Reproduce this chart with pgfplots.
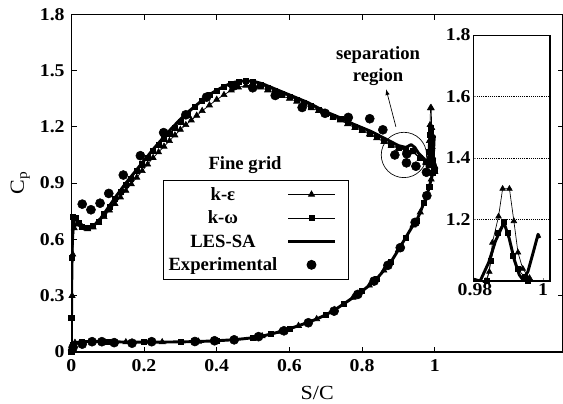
\documentclass[border=0pt]{standalone}
\usepackage{pgfplots}
\pgfplotsset{compat=1.18}
\usepackage{pgfplotstable}
\usepackage{fontspec}
\setmainfont{Liberation Serif}[FakeStretch=1.1]
\newfontfamily\legfont{Liberation Serif}
\newcommand\tf{\fontsize{13.5}{15.5}\selectfont\bfseries}
\newcommand\lf{\legfont\fontsize{14}{16}\selectfont\bfseries}
\pgfplotsset{
  linelegend/.style={legend image code/.code={\draw[white, line width=0.1pt] (35pt,0pt) -- (43pt,0pt); \draw[mark repeat=2,mark phase=2,##1] plot coordinates {(0pt,0pt) (17.5pt,0pt) (35pt,0pt)};}},
  thicklegend/.style={legend image code/.code={\draw[white, line width=0.1pt] (35pt,0pt) -- (43pt,0pt); \draw[##1] (0pt,0pt) -- (35pt,0pt);}},
  marklegend/.style={legend image code/.code={\draw[white, line width=0.1pt] (0pt,0pt) -- (43pt,0pt); \draw[##1] plot coordinates {(17.5pt,0pt)};}},
}

\pgfplotstableread{
x y
0 0
0.001 0.35
0.003 0.62
0.007 0.72
0.013 0.705
0.022 0.675
0.035 0.655
0.05 0.66
0.065 0.68
0.08 0.71
0.10 0.765
0.125 0.835
0.15 0.90
0.175 0.96
0.20 1.02
0.225 1.08
0.25 1.135
0.275 1.19
0.30 1.24
0.325 1.285
0.35 1.325
0.375 1.365
0.40 1.395
0.425 1.42
0.45 1.438
0.475 1.445
0.50 1.443
0.525 1.43
0.55 1.41
0.575 1.39
0.60 1.37
0.625 1.35
0.65 1.33
0.675 1.305
0.70 1.28
0.725 1.26
0.75 1.24
0.775 1.215
0.80 1.195
0.825 1.175
0.85 1.15
0.875 1.125
0.90 1.10
0.92 1.09
0.935 1.105
0.945 1.09
0.955 1.06
0.965 1.04
0.975 1.02
0.9815 1.0
0.984 1.06
0.986 1.13
0.9885 1.19
0.990 1.14
0.9915 1.07
0.993 1.02
0.994 1.005
0.9955 1.03
0.997 1.09
0.9985 1.152
0.999 1.14
}\lesup

\pgfplotstableread{
x y
1.0 0.99
0.995 0.955
0.99 0.92
0.985 0.88
0.978 0.833
0.97 0.795
0.96 0.745
0.95 0.70
0.94 0.675
0.92 0.61
0.90 0.545
0.88 0.482
0.86 0.435
0.84 0.39
0.82 0.355
0.80 0.325
0.775 0.29
0.75 0.257
0.725 0.225
0.70 0.198
0.675 0.176
0.65 0.157
0.625 0.14
0.60 0.124
0.575 0.109
0.55 0.096
0.525 0.085
0.50 0.076
0.45 0.066
0.40 0.06
0.35 0.056
0.30 0.054
0.25 0.053
0.20 0.053
0.15 0.053
0.10 0.055
0.06 0.057
0.03 0.055
0.01 0.05
0.004 0.04
0.001 0.02
0 0
}\lowsurf

\pgfplotstableread{
x y
0 0.02
0.002 0.3
0.004 0.52
0.008 0.66
0.015 0.68
0.03 0.665
0.045 0.655
0.06 0.665
0.075 0.69
0.09 0.72
0.105 0.755
0.12 0.79
0.135 0.825
0.15 0.86
0.165 0.895
0.18 0.93
0.195 0.965
0.21 1.0
0.225 1.035
0.24 1.065
0.255 1.095
0.27 1.125
0.285 1.155
0.30 1.185
0.315 1.21
0.33 1.235
0.345 1.26
0.36 1.285
0.38 1.315
0.40 1.345
0.42 1.37
0.44 1.395
0.46 1.41
0.48 1.42
0.50 1.42
0.52 1.41
0.54 1.395
0.56 1.38
0.58 1.365
0.60 1.35
0.62 1.335
0.64 1.32
0.66 1.30
0.68 1.285
0.70 1.27
0.72 1.25
0.74 1.235
0.76 1.215
0.78 1.195
0.80 1.18
0.82 1.16
0.84 1.14
0.86 1.12
0.88 1.10
0.90 1.085
0.92 1.075
0.94 1.065
0.96 1.03
0.975 1.01
0.9832 1.0
0.9842 1.03
0.9851 1.125
0.9869 1.21
0.9881 1.30
0.9901 1.30
0.9914 1.195
0.9926 1.093
0.994 1.04
0.996 1.01
0.998 0.99
1.0 0.96
}\keup

\pgfplotstableread{
x y
0 0.18
0.002 0.5
0.005 0.72
0.012 0.715
0.02 0.69
0.03 0.665
0.045 0.66
0.06 0.67
0.075 0.695
0.09 0.735
0.105 0.775
0.12 0.815
0.135 0.855
0.15 0.89
0.165 0.925
0.18 0.965
0.195 1.0
0.21 1.035
0.225 1.07
0.24 1.105
0.255 1.135
0.27 1.165
0.285 1.195
0.30 1.225
0.32 1.265
0.34 1.305
0.36 1.34
0.38 1.37
0.40 1.39
0.42 1.415
0.44 1.43
0.46 1.44
0.48 1.443
0.50 1.44
0.52 1.425
0.54 1.405
0.56 1.39
0.58 1.375
0.60 1.36
0.62 1.345
0.64 1.33
0.66 1.31
0.68 1.29
0.70 1.27
0.72 1.255
0.74 1.24
0.76 1.22
0.78 1.2
0.80 1.185
0.82 1.165
0.84 1.145
0.86 1.125
0.88 1.105
0.90 1.09
0.92 1.08
0.94 1.07
0.96 1.035
0.975 1.015
0.9835 1.0
0.9847 1.066
0.9866 1.158
0.9884 1.192
0.9896 1.158
0.9911 1.082
0.9926 1.039
0.9946 1.012
0.9956 1.0
0.998 0.98
1.0 0.97
}\kwup

\pgfplotstableread{
x y
0.03 0.788
0.054 0.758
0.079 0.793
0.103 0.845
0.143 0.943
0.19 1.046
0.254 1.169
0.315 1.264
0.372 1.358
0.446 1.417
0.499 1.408
0.561 1.367
0.635 1.303
0.698 1.272
0.762 1.25
0.821 1.243
0.857 1.184
0.89 1.05
0.923 1.056
0.922 1.008
0.948 0.99
0.977 0.958
0.978 0.833
0.946 0.691
0.905 0.556
0.871 0.462
0.833 0.378
0.788 0.307
0.723 0.218
0.652 0.156
0.585 0.113
0.515 0.082
0.448 0.065
0.394 0.06
0.34 0.056
0.221 0.055
0.167 0.047
0.118 0.05
0.084 0.055
0.057 0.055
0.03 0.042
0.005 0.025
}\expdata

\begin{document}
\begin{tikzpicture}
\path[use as bounding box] (-53.5pt,-38.25pt) rectangle (368.8pt,264.05pt);
\begin{axis}[
  at={(0,0)}, anchor=south west,
  scale only axis, width=368.8pt, height=253.4pt,
  xmin=0, xmax=1.3527, ymin=0, ymax=1.8,
  xtick={0,0.2,0.4,0.6,0.8,1},
  ytick={0,0.3,0.6,0.9,1.2,1.5,1.8},
  tick align=inside, major tick length=4pt,
  /pgf/number format/assume math mode=true,
  /pgf/number format/fixed,
  ticklabel style={font=\tf},
  xticklabel style={yshift=-2pt},
  yticklabel style={xshift=-1.5pt},
  axis line style={line width=0.8pt},
  every tick/.style={line width=0.6pt, black},
  xlabel={S/C}, ylabel={C\textsubscript{p}},
  label style={font=\fontsize{15}{17}\selectfont},
  xlabel style={at={(axis description cs:0.5,-0.121)}, anchor=center},
  ylabel style={at={(axis description cs:-0.104,0.5)}, anchor=center},
  legend plot pos=right,
  legend style={at={(axis description cs:0.186,0.2145)}, anchor=south west,
    draw=black, line width=0.6pt, fill=white, font=\lf,
    cells={anchor=center, text height=10pt, text depth=3pt, inner ysep=1pt},
    row sep=2.1pt, inner xsep=2pt, inner ysep=3pt,
    column sep=5pt},
]
\addplot[black, line width=0.5pt, mark=triangle*, mark size=2.6pt, linelegend]
  table {\keup};
\addlegendentry{k-ε}
\addplot[black, line width=0.5pt, mark=square*, mark size=1.9pt, linelegend]
  table {\kwup};
\addlegendentry{k-ω}
\addplot[black, line width=2.2pt, line join=round, no marks, thicklegend]
  table {\lesup};
\addlegendentry{LES-SA}
\addplot[black, only marks, mark=*, mark size=3.4pt, marklegend]
  table {\expdata};
\addlegendentry{Experimental}
\addplot[black, line width=0.5pt, mark=triangle*, mark size=2.6pt, mark repeat=2, mark phase=1, forget plot] table {\lowsurf};
\addplot[black, line width=0.5pt, mark=square*, mark size=1.9pt, mark repeat=2, mark phase=2, forget plot] table {\lowsurf};
\addplot[black, line width=2.2pt, line join=round, no marks, forget plot] table {\lowsurf};
\node[font=\lf] at (axis cs:0.478,0.996) {Fine grid};
\node[font=\lf, align=center, inner sep=0pt] at (axis cs:0.844,1.524) {separation\\region};
\draw[line width=0.5pt] (axis cs:0.915,1.05) circle[radius=17pt];
\draw[line width=0.5pt, -latex] (axis cs:0.893,1.2) -- (axis cs:0.866,1.40);
\end{axis}
\begin{axis}[
  at={(301.5pt,53.25pt)}, anchor=south west,
  scale only axis, width=57.5pt, height=184.5pt,
  xmin=0.9795, xmax=1.002, ymin=1.0, ymax=1.8,
  xtick={0.98,1}, xticklabels={0.98,1},
  ytick={1.2,1.4,1.6,1.8},
  ymajorgrids, grid style={densely dotted, black, line width=0.5pt},
  tick align=inside, major tick length=2pt,
  xtick pos=bottom, ytick pos=left,
  /pgf/number format/assume math mode=true,
  /pgf/number format/fixed,
  ticklabel style={font=\tf},
  yticklabel style={xshift=1.5pt},
  xticklabel style={yshift=1.5pt},
  axis line style={line width=0.8pt},
  axis background/.style={fill=white},
  clip=true,
]
\addplot[black, line width=0.5pt, mark=triangle*, mark size=2.4pt] table {\keup};
\addplot[black, line width=0.5pt, mark=square*, mark size=1.9pt] table {\kwup};
\addplot[black, line width=2.2pt, line join=round, no marks] table {\lesup};
\end{axis}
\end{tikzpicture}
\end{document}
